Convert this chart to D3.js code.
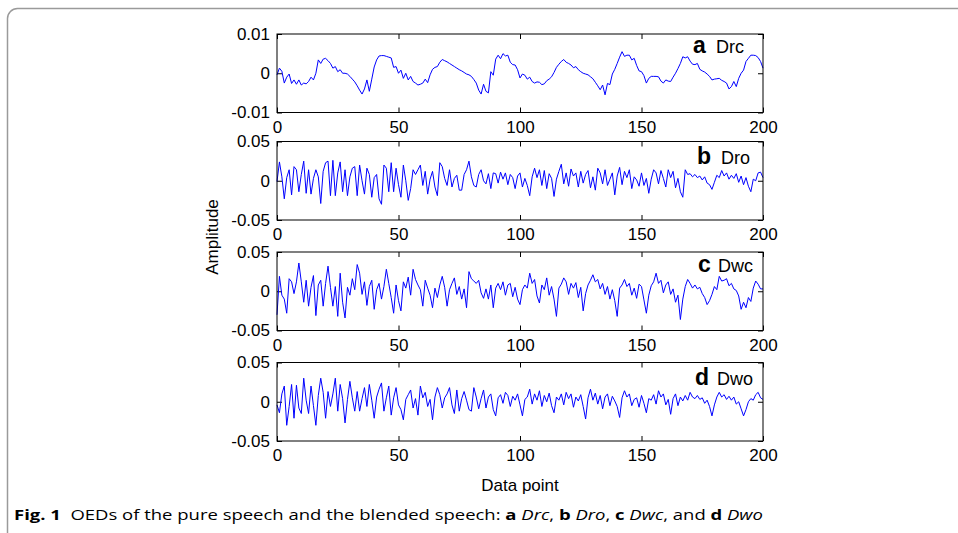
<!DOCTYPE html>
<html>
<head>
<meta charset="utf-8">
<script src="https://cdn.jsdelivr.net/npm/d3@7"></script>
<style>
  body { margin: 0; background: #fff; }
  svg { display: block; }
  text { fill: #000; }
</style>
</head>
<body>
<svg></svg>
<script>
const width = 958, height = 533;
const svg = d3.select("svg").attr("width", width).attr("height", height);

// ---- data ----
const xTicks = [0, 50, 100, 150, 200];
const panelLetters = ["a", "b", "c", "d"];
const panelNames = ["Drc", "Dro", "Dwc", "Dwo"];
const yLimits = [0.01, 0.05, 0.05, 0.05];
const yTickValues = [[0.01, 0, -0.01], [0.05, 0, -0.05], [0.05, 0, -0.05], [0.05, 0, -0.05]];
const yTickLabels = [["0.01", "0", "-0.01"], ["0.05", "0", "-0.05"], ["0.05", "0", "-0.05"], ["0.05", "0", "-0.05"]];

const drc = [
  -0.0004, 0.0013, 0.0005, -0.0025, -0.0010, -0.0002, -0.0026, -0.0017, -0.0028, -0.0017,
  -0.0030, -0.0025, -0.0027, -0.0021, -0.0010, -0.0017, 0.0000, 0.0034, 0.0025, 0.0036,
  0.0038, 0.0032, 0.0025, 0.0013, 0.0017, 0.0004, 0.0009, 0.0000, 0.0000, -0.0002,
  -0.0008, -0.0015, -0.0022, -0.0032, -0.0043, -0.0053, -0.0040, -0.0017, -0.0046, -0.0015,
  0.0016, 0.0034, 0.0044, 0.0045, 0.0045, 0.0043, 0.0041, 0.0039, 0.0015, 0.0017,
  0.0000, 0.0008, -0.0013, 0.0000, -0.0017, -0.0008, -0.0021, -0.0025, -0.0030, -0.0028,
  -0.0025, -0.0015, -0.0024, -0.0004, 0.0010, 0.0015, 0.0017, 0.0028, 0.0035, 0.0032,
  0.0029, 0.0025, 0.0021, 0.0017, 0.0013, 0.0009, 0.0006, 0.0002, -0.0002, -0.0004,
  -0.0008, -0.0016, -0.0025, -0.0043, -0.0053, -0.0028, -0.0046, -0.0050, 0.0004, -0.0005,
  0.0036, 0.0046, 0.0037, 0.0050, 0.0044, 0.0046, 0.0028, 0.0022, 0.0021, 0.0009,
  -0.0012, -0.0002, -0.0005, -0.0015, -0.0010, -0.0021, -0.0025, -0.0022, -0.0023, -0.0029,
  -0.0027, -0.0019, -0.0015, -0.0009, 0.0002, 0.0015, 0.0023, 0.0030, 0.0035, 0.0028,
  0.0025, 0.0021, 0.0014, 0.0017, 0.0009, 0.0004, 0.0000, -0.0002, -0.0004, -0.0009,
  -0.0014, -0.0023, -0.0032, -0.0042, -0.0030, -0.0055, -0.0026, -0.0029, -0.0002, 0.0010,
  0.0025, 0.0041, 0.0055, 0.0043, 0.0046, 0.0046, 0.0034, 0.0038, 0.0020, 0.0006,
  0.0004, -0.0006, -0.0025, -0.0013, -0.0008, -0.0008, -0.0008, -0.0009, -0.0020, -0.0025,
  -0.0017, -0.0020, -0.0021, -0.0010, 0.0000, 0.0012, 0.0025, 0.0042, 0.0039, 0.0042,
  0.0031, 0.0023, 0.0022, 0.0025, 0.0010, 0.0006, 0.0003, -0.0002, -0.0008, -0.0017,
  -0.0015, -0.0014, -0.0013, -0.0018, -0.0021, -0.0025, -0.0040, -0.0034, -0.0021, -0.0034,
  -0.0013, 0.0000, 0.0008, 0.0030, 0.0038, 0.0046, 0.0046, 0.0045, 0.0040, 0.0030, 0.0013
];

const dro = [
  -0.001, 0.024, 0.005, -0.023, 0.004, 0.014, -0.018, 0.018, 0.014, -0.014,
  0.008, 0.025, -0.016, 0.014, -0.017, 0.003, 0.014, 0.005, -0.029, 0.012,
  0.023, 0.025, -0.019, 0.026, -0.019, 0.010, 0.024, -0.014, 0.014, -0.019,
  0.005, 0.016, 0.018, -0.019, 0.020, 0.000, -0.017, 0.016, 0.008, -0.021,
  0.004, 0.008, -0.023, -0.030, 0.020, 0.016, -0.014, 0.023, -0.014, 0.016,
  -0.005, -0.021, 0.020, 0.000, -0.025, -0.010, 0.014, 0.008, 0.014, 0.020,
  -0.006, 0.012, -0.017, 0.002, 0.012, -0.008, -0.019, 0.023, 0.018, 0.003,
  -0.006, 0.014, -0.008, 0.003, 0.007, -0.012, -0.012, 0.008, 0.014, 0.025,
  0.005, -0.006, -0.008, 0.008, 0.014, 0.000, -0.004, 0.009, -0.010, 0.010,
  0.009, -0.003, 0.011, 0.002, 0.010, -0.005, 0.008, 0.004, -0.010, 0.006,
  0.010, -0.008, 0.003, -0.006, -0.019, 0.005, 0.016, 0.004, 0.014, -0.006,
  0.013, -0.010, 0.009, 0.003, -0.020, 0.002, 0.012, 0.021, -0.004, 0.010,
  -0.007, 0.015, 0.006, 0.010, -0.008, 0.012, -0.003, 0.008, 0.013, -0.009,
  0.005, -0.012, 0.016, 0.010, -0.004, 0.014, -0.006, 0.002, 0.010, -0.018,
  0.006, 0.017, -0.005, 0.012, 0.004, 0.014, -0.010, 0.005, 0.001, -0.007,
  0.010, -0.006, 0.003, -0.016, 0.002, 0.014, 0.010, -0.004, 0.013, 0.003,
  -0.008, 0.014, 0.004, 0.012, -0.009, 0.003, -0.014, -0.021, 0.014, 0.008,
  0.009, 0.005, 0.008, 0.004, 0.006, 0.001, 0.005, -0.003, -0.005, -0.011,
  -0.002, 0.007, 0.004, 0.013, 0.006, 0.010, 0.002, 0.007, 0.003, 0.009,
  -0.002, 0.006, -0.005, 0.004, -0.007, -0.014, 0.002, 0.000, 0.010, 0.011, 0.004
];

const dwc = [
  -0.030, 0.019, -0.005, -0.010, -0.028, 0.016, 0.012, -0.003, 0.012, 0.036,
  0.012, -0.014, 0.014, -0.019, 0.005, 0.020, -0.031, 0.008, 0.014, -0.019,
  0.010, 0.032, 0.005, -0.019, 0.006, -0.032, 0.023, -0.014, -0.034, 0.005,
  -0.005, 0.016, 0.002, 0.034, 0.023, -0.004, 0.012, -0.018, 0.006, 0.014,
  -0.023, 0.002, 0.010, -0.010, 0.006, 0.028, 0.010, -0.008, -0.028, 0.008,
  -0.012, -0.025, 0.012, 0.004, 0.018, -0.005, 0.028, 0.015, 0.008, 0.002,
  -0.019, 0.014, 0.004, -0.005, -0.021, 0.004, -0.008, 0.008, 0.019, 0.005,
  -0.019, 0.002, 0.010, 0.017, -0.004, 0.006, -0.010, 0.003, -0.021, 0.025,
  0.016, 0.013, 0.010, 0.014, -0.002, -0.009, 0.003, -0.010, 0.008, -0.021,
  0.004, 0.010, 0.002, 0.012, -0.005, 0.008, 0.010, -0.007, 0.005, -0.010,
  -0.017, 0.002, 0.008, 0.004, 0.023, 0.010, 0.015, -0.006, -0.015, 0.008,
  0.002, 0.017, -0.005, 0.006, -0.010, -0.032, 0.004, 0.009, 0.017, 0.012,
  -0.004, 0.010, 0.004, 0.011, -0.008, 0.005, -0.025, -0.003, 0.008, 0.014,
  0.021, 0.012, 0.015, 0.003, 0.010, -0.004, 0.006, -0.010, 0.002, -0.012,
  -0.032, 0.004, 0.008, 0.015, 0.006, 0.010, -0.005, 0.004, -0.009, 0.009,
  0.006, -0.011, -0.028, -0.005, 0.007, 0.012, 0.023, 0.010, 0.014, -0.002,
  0.008, 0.012, -0.004, 0.003, -0.014, -0.005, -0.036, -0.010, 0.006, 0.015,
  0.010, 0.004, 0.008, 0.003, 0.005, -0.003, -0.008, -0.017, -0.012, -0.004,
  0.006, 0.002, 0.019, 0.013, 0.014, 0.016, 0.007, 0.010, 0.003, 0.001,
  -0.006, -0.023, -0.014, -0.021, -0.008, -0.013, 0.004, 0.013, 0.009, 0.003, 0.003
];

const dwo = [
  -0.004, -0.014, 0.010, 0.020, -0.030, -0.006, 0.022, -0.021, 0.021, -0.008,
  -0.015, 0.030, 0.002, -0.015, 0.020, -0.005, -0.030, 0.008, 0.030, 0.012,
  -0.021, 0.013, -0.006, 0.010, 0.030, -0.012, 0.022, 0.004, -0.027, 0.003,
  0.026, 0.005, -0.012, 0.013, -0.012, 0.004, 0.018, -0.006, 0.022, 0.002,
  -0.021, 0.006, 0.016, 0.024, -0.012, 0.005, 0.020, -0.017, 0.005, 0.018,
  -0.004, -0.010, -0.023, 0.003, 0.009, 0.015, -0.008, 0.004, -0.017, 0.020,
  0.005, 0.012, -0.006, 0.003, -0.023, 0.006, 0.018, 0.009, -0.008, 0.005,
  0.010, 0.018, -0.004, -0.015, 0.015, -0.012, 0.004, 0.013, 0.002, -0.010,
  -0.012, 0.018, 0.006, -0.009, 0.004, 0.015, -0.008, 0.006, 0.010, -0.010,
  -0.018, 0.005, 0.009, -0.002, 0.012, 0.008, -0.006, 0.007, 0.002, 0.010,
  -0.004, -0.018, 0.003, 0.006, 0.016, -0.003, 0.010, 0.002, 0.014, -0.006,
  0.008, 0.000, 0.011, -0.005, -0.014, 0.006, 0.002, 0.010, -0.004, 0.012,
  0.004, 0.010, -0.007, 0.006, 0.001, 0.009, -0.006, -0.022, 0.005, 0.016,
  0.002, 0.011, -0.003, 0.008, -0.009, 0.006, 0.010, -0.005, 0.007, 0.001,
  -0.006, -0.020, 0.005, 0.014, 0.006, 0.010, -0.005, 0.003, 0.005, -0.007,
  0.008, -0.002, -0.014, 0.004, 0.002, 0.009, -0.003, 0.014, 0.006, 0.010,
  -0.004, 0.003, -0.016, 0.004, 0.010, -0.005, 0.006, 0.001, 0.008, 0.002,
  0.012, 0.006, 0.004, 0.008, 0.003, 0.005, -0.002, 0.002, -0.006, -0.018,
  -0.004, 0.006, 0.012, 0.006, 0.009, 0.003, 0.007, 0.002, 0.006, -0.003,
  0.000, -0.009, -0.018, -0.010, 0.000, 0.004, 0.002, 0.009, 0.012, 0.005, 0.003
];

const series = [drc, dro, dwc, dwo];

// ---- layout ----
const plotLeft = 277, plotRight = 763;
const panelTops = [34, 141.5, 252, 362.5];
const panelH = 78.5;
const tagLetterX = [693, 697, 698, 695];
const tagNameX = [716, 721, 718, 717];
const tagBaseline = [18.5, 22, 19.5, 22];
const axisFont = "Liberation Sans, Arial, Helvetica, sans-serif";

// outer frame of the figure box
svg.append("rect")
  .attr("x", 7.5).attr("y", 8.5)
  .attr("width", 1000).attr("height", 600)
  .attr("rx", 10)
  .attr("fill", "none")
  .attr("stroke", "#9a9a9a")
  .attr("stroke-width", 1.5);

const x = d3.scaleLinear().domain([0, 200]).range([plotLeft, plotRight]);

series.forEach((vals, k) => {
  const top = panelTops[k];
  const y = d3.scaleLinear().domain([-yLimits[k], yLimits[k]]).range([top + panelH, top]);
  const g = svg.append("g").attr("font-family", axisFont);

  // inward ticks on all four sides (matlab style)
  g.append("g")
    .attr("transform", "translate(0," + (top + panelH) + ")")
    .call(d3.axisBottom(x).tickValues(xTicks).tickSize(-5).tickPadding(8))
    .call(a => a.select(".domain").remove());
  g.append("g")
    .attr("transform", "translate(0," + top + ")")
    .call(d3.axisTop(x).tickValues(xTicks).tickSize(-5).tickFormat(""))
    .call(a => a.select(".domain").remove());
  g.append("g")
    .attr("transform", "translate(" + plotLeft + ",0)")
    .call(d3.axisLeft(y).tickValues(yTickValues[k]).tickSize(-5).tickPadding(7)
      .tickFormat((d, i) => yTickLabels[k][i]))
    .call(a => a.select(".domain").remove());
  g.append("g")
    .attr("transform", "translate(" + plotRight + ",0)")
    .call(d3.axisRight(y).tickValues(yTickValues[k]).tickSize(-5).tickFormat(""))
    .call(a => a.select(".domain").remove());

  g.selectAll(".tick text").attr("font-size", 17).attr("fill", "#000");
  g.selectAll(".tick line").attr("stroke", "#000");

  g.append("path")
    .datum(vals)
    .attr("fill", "none")
    .attr("stroke", "#0000ff")
    .attr("stroke-width", 1)
    .attr("d", d3.line().x((d, i) => x(i)).y(d => y(d)));

  g.append("rect")
    .attr("x", plotLeft).attr("y", top)
    .attr("width", plotRight - plotLeft).attr("height", panelH)
    .attr("fill", "none").attr("stroke", "#000").attr("stroke-width", 1);

  g.append("text")
    .attr("x", tagLetterX[k]).attr("y", top + tagBaseline[k])
    .attr("font-size", 23).attr("font-weight", "bold")
    .text(panelLetters[k]);
  g.append("text")
    .attr("x", tagNameX[k]).attr("y", top + tagBaseline[k])
    .attr("font-size", 18)
    .text(panelNames[k]);
});

// axis titles
svg.append("text")
  .attr("x", (plotLeft + plotRight) / 2).attr("y", 491)
  .attr("text-anchor", "middle")
  .attr("font-family", axisFont).attr("font-size", 17)
  .text("Data point");

svg.append("text")
  .attr("transform", "translate(218,237) rotate(-90)")
  .attr("text-anchor", "middle")
  .attr("font-family", axisFont).attr("font-size", 17)
  .text("Amplitude");

// caption
const cap = svg.append("text")
  .attr("x", 14).attr("y", 520)
  .attr("font-family", "Open Sans, Noto Sans, sans-serif")
  .attr("font-size", 15)
  .style("white-space", "pre");
cap.append("tspan").attr("font-weight", "bold").text("Fig. 1");
cap.append("tspan").text("  OEDs of the pure speech and the blended speech: ");
[["a", "Drc", ", "], ["b", "Dro", ", "], ["c", "Dwc", ", and "], ["d", "Dwo", ""]].forEach(p => {
  cap.append("tspan").attr("font-weight", "bold").text(p[0] + " ");
  cap.append("tspan").attr("font-style", "italic").text(p[1]);
  if (p[2]) cap.append("tspan").text(p[2]);
});
const capW = cap.node().getComputedTextLength();
cap.attr("textLength", 749).attr("lengthAdjust", "spacingAndGlyphs");
</script>
</body>
</html>
